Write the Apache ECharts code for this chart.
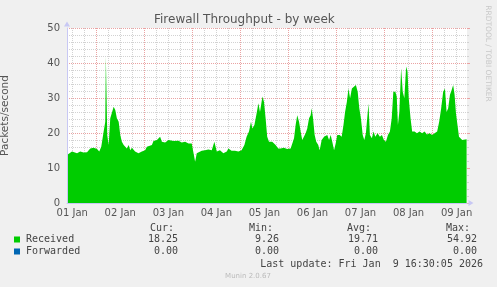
<!DOCTYPE html>
<html><head><meta charset="utf-8">
<script src="https://cdn.jsdelivr.net/npm/echarts@6/dist/echarts.min.js"></script>
<style>html,body{margin:0;padding:0;background:#f0f0f0}#c{width:497px;height:287px}</style>
</head><body><div id="c"></div>
<script>
// ---- data ----
const chartTitle = 'Firewall Throughput - by week';
const yAxisName = 'Packets/second';
const dayLabels = ['01 Jan','02 Jan','03 Jan','04 Jan','05 Jan','06 Jan','07 Jan','08 Jan','09 Jan'];
// sample times, hours since 01 Jan 00:00
const hours = [
  9.4, 11.9, 12.7, 14.4, 16.0, 17.7, 19.4, 21.0, 22.7, 24.4,
  25.5, 26.5, 27.7, 28.5, 28.8, 29.5, 30.2, 31.0, 31.8, 32.7,
  33.5, 34.3, 35.2, 36.0, 36.8, 37.7, 38.5, 39.3, 40.2, 41.0,
  41.8, 42.6, 43.4, 45.1, 46.8, 48.4, 49.3, 50.1, 51.8, 52.6,
  54.3, 55.9, 56.8, 58.4, 60.1, 62.6, 65.1, 66.7, 68.4, 70.1,
  71.7, 72.6, 73.4, 74.2, 75.0, 76.7, 78.3, 80.0, 81.7, 83.0,
  84.2, 85.8, 87.5, 89.2, 90.0, 91.6, 93.3, 95.0, 96.6, 98.0,
  99.1, 100.3, 101.3, 102.0, 103.0, 104.1, 105.0, 105.8, 107.0, 107.8,
  108.6, 109.4, 110.3, 111.1, 111.9, 112.8, 113.6, 114.9, 116.1, 117.7,
  119.4, 121.1, 121.9, 122.8, 123.6, 124.4, 125.3, 126.1, 126.9, 127.8,
  128.6, 129.4, 130.3, 131.1, 131.6, 132.3, 133.1, 133.9, 134.9, 135.6,
  136.6, 137.8, 138.6, 139.4, 140.3, 141.1, 141.9, 142.8, 143.6, 144.4,
  145.6, 146.6, 147.5, 148.3, 149.2, 150.0, 150.8, 151.7, 152.6, 153.7,
  154.6, 155.4, 156.2, 157.1, 157.9, 158.7, 160.0, 160.7, 161.7, 162.5,
  163.4, 164.5, 165.7, 166.7, 167.7, 168.7, 169.7, 170.7, 171.6, 172.4,
  173.4, 174.1, 174.7, 175.4, 176.3, 177.1, 177.9, 178.8, 179.5, 180.1,
  181.0, 181.8, 183.0, 184.2, 185.5, 186.8, 188.0, 189.2, 190.5, 191.8,
  193.0, 194.3, 195.3, 196.3, 197.3, 198.2, 199.0, 199.8, 200.7, 201.5,
  202.3, 203.0, 203.7, 204.3, 205.2, 206.0, 206.8, 207.7, 209.0
];
const received = [
  13.7, 14.7, 15.1, 14.2, 14.7, 14.4, 14.5, 15.6, 15.8, 15.4,
  14.7, 16.1, 20.4, 23.2, 41.8, 19.4, 16.6, 24.2, 24.7, 27.5,
  26.6, 24.2, 23.2, 19.4, 17.5, 16.6, 16.1, 15.6, 16.6, 15.1,
  15.8, 15.4, 14.7, 14.2, 14.7, 15.1, 16.1, 15.6, 16.6, 17.7,
  18.0, 18.9, 17.5, 17.3, 18.0, 17.7, 17.8, 17.3, 17.5, 17.0,
  17.0, 16.6, 11.8, 14.2, 14.7, 14.9, 15.1, 15.3, 15.1, 17.5,
  14.7, 15.1, 14.2, 14.7, 15.6, 14.9, 14.9, 14.7, 15.1, 16.6,
  18.9, 20.4, 23.2, 21.3, 22.3, 25.6, 28.5, 26.0, 30.4, 28.9,
  24.2, 18.9, 17.5, 18.0, 17.5, 18.0, 16.6, 15.6, 15.6, 15.8,
  15.4, 15.6, 15.8, 18.5, 22.3, 25.1, 23.2, 20.4, 18.0, 18.5,
  19.9, 21.3, 24.2, 25.1, 27.1, 24.2, 19.4, 17.5, 16.6, 15.1,
  18.0, 18.9, 18.5, 19.4, 18.0, 19.4, 17.5, 15.1, 17.0, 19.4,
  19.4, 18.9, 22.3, 26.0, 28.9, 32.7, 29.9, 32.7, 33.2, 33.7,
  31.8, 27.1, 24.2, 19.4, 18.0, 19.9, 28.4, 19.4, 18.5, 20.4,
  18.9, 19.9, 18.9, 19.4, 18.0, 17.5, 19.4, 20.4, 24.2, 31.8,
  31.8, 30.4, 22.3, 26.0, 38.5, 31.8, 29.9, 39.0, 37.5, 29.9,
  24.2, 20.4, 20.4, 19.9, 20.4, 19.9, 20.4, 19.6, 19.9, 19.4,
  19.9, 20.4, 23.2, 27.1, 31.8, 32.7, 26.0, 27.1, 30.9, 32.2,
  33.7, 30.9, 25.6, 25.1, 18.9, 18.5, 18.0, 18.5, 18.25
];
const seriesNames = ['Received', 'Forwarded'];
const seriesColors = ['#00cc00', '#0066b3'];
const statHeaders = ['Cur:', 'Min:', 'Avg:', 'Max:'];
const receivedStats = ['18.25', '9.26', '19.71', '54.92'];
const forwardedStats = ['0.00', '0.00', '0.00', '0.00'];
const lastUpdate = 'Last update: Fri Jan  9 16:30:05 2026';
const footer = 'Munin 2.0.67';
const sideText = 'RRDTOOL / TOBI OETIKER';

// ---- layout ----
const X_MIN = 9.39, X_MAX = 209.2;
const FONT = '"DejaVu Sans", sans-serif';
const MONO = '"DejaVu Sans Mono", monospace';
const noonTicks = [], midnightTicks = [], sixHourTicks = [];
for (let h = 0; h <= X_MAX; h += 6) {
  if (h < X_MIN) continue;
  if (h % 24 === 0) midnightTicks.push(h);
  else sixHourTicks.push(h);
  if (h % 24 === 12) noonTicks.push(h);
}
const data = hours.map((h, i) => [h, received[i]]);

const headerX = [150, 249, 347, 446];
const valueRightX = [178, 279, 378, 477];
const rowY = [239.5, 251.5];
const graphic = [];
statHeaders.forEach((t, i) => graphic.push({type:'text', x: headerX[i], y: 228.5,
  style:{text:t, font:'10px ' + MONO, fill:'#444', align:'left', verticalAlign:'middle'}}));
[receivedStats, forwardedStats].forEach((stats, r) => {
  graphic.push({type:'rect', shape:{x:14, y:rowY[r]-3, width:6, height:6}, style:{fill:seriesColors[r]}});
  graphic.push({type:'text', x: 26, y: rowY[r],
    style:{text:seriesNames[r], font:'10px ' + MONO, fill:'#444', align:'left', verticalAlign:'middle'}});
  stats.forEach((t, i) => graphic.push({type:'text', x: valueRightX[i], y: rowY[r],
    style:{text:t, font:'10px ' + MONO, fill:'#444', align:'right', verticalAlign:'middle'}}));
});
graphic.push({type:'text', x: 483, y: 264,
  style:{text:lastUpdate, font:'10px ' + MONO, fill:'#444', align:'right', verticalAlign:'middle'}});
graphic.push({type:'text', x: 248, y: 276.5,
  style:{text:footer, font:'7px ' + FONT, fill:'#bbbbbb', align:'center', verticalAlign:'middle'}});
graphic.push({type:'text', x: 488, y: 53.5, rotation: -Math.PI/2,
  style:{text:sideText, font:'7.5px ' + FONT, fill:'#c8c8c8', align:'center', verticalAlign:'middle'}});

const axisLineColor = '#c8c8f4';
const majorColor = '#eaa3a3', minorColor = '#d2d2d2';
const majorGrid = {show:true, lineStyle:{color:majorColor, width:1, type:[1,1]}};
const minorGrid = {show:true, lineStyle:{color:minorColor, width:1, type:[1,1]}};

const option = {
  animation: false,
  backgroundColor: '#f0f0f0',
  title: {text: chartTitle, left: 154, top: 14, padding: 0,
    textStyle:{fontFamily: FONT, fontSize: 12, fontWeight:'normal', color:'#555'}},
  graphic: graphic,
  grid: {left: 67, right: 30, top: 28, bottom: 84, show: true, backgroundColor:'#ffffff', borderWidth: 0,
    containLabel: false, outerBoundsMode: 'none'},
  xAxis: [
    {type:'value', min:X_MIN, max:X_MAX, z: 10,
      axisLine:{show:true, onZero:false, lineStyle:{color:axisLineColor}, symbol:['none','triangle'], symbolSize:[6,5], symbolOffset:[0,4]},
      axisTick:{show:false},
      axisLabel:{customValues: noonTicks, margin: 5, fontFamily: FONT, fontSize: 10, color:'#555',
        formatter: v => dayLabels[Math.floor(v / 24)]},
      splitLine:{show:false}},
    {type:'value', min:X_MIN, max:X_MAX, splitLine: majorGrid,
      axisLine:{show:false}, axisLabel:{show:false},
      axisTick:{show:true, length:3, lineStyle:{color:majorColor}, customValues: midnightTicks}},
    {type:'value', min:X_MIN, max:X_MAX, splitLine: minorGrid,
      axisLine:{show:false}, axisLabel:{show:false},
      axisTick:{show:true, length:2, lineStyle:{color:minorColor}, customValues: sixHourTicks}}
  ],
  yAxis: [
    {type:'value', min:0, max:50, interval:10, z: 10,
      name: yAxisName, nameLocation:'middle', nameGap: 56,
      nameTextStyle:{fontFamily: FONT, fontSize: 10.5, color:'#555'},
      axisLine:{show:true, onZero:false, lineStyle:{color:axisLineColor}, symbol:['none','triangle'], symbolSize:[6,5], symbolOffset:[0,4]},
      axisTick:{show:false},
      axisLabel:{margin: 7, fontFamily: FONT, fontSize: 10, color:'#555'},
      splitLine:{show:false}},
    {type:'value', min:0, max:50, interval:10, splitLine: majorGrid,
      axisLine:{show:false}, axisLabel:{show:false},
      axisTick:{show:true, length:3, lineStyle:{color:majorColor}},
      minorTick:{show:true, splitNumber:5, length:2, lineStyle:{color:minorColor}},
      minorSplitLine: minorGrid}
  ],
  series: [{
    name: seriesNames[0], type:'line', xAxisIndex:0, yAxisIndex:0,
    data: data, showSymbol:false, symbol:'none',
    lineStyle:{width:0}, areaStyle:{color: seriesColors[0], opacity:1}, z: 2
  }]
};
const chart = echarts.init(document.getElementById('c'));
chart.setOption(option);
</script></body></html>
